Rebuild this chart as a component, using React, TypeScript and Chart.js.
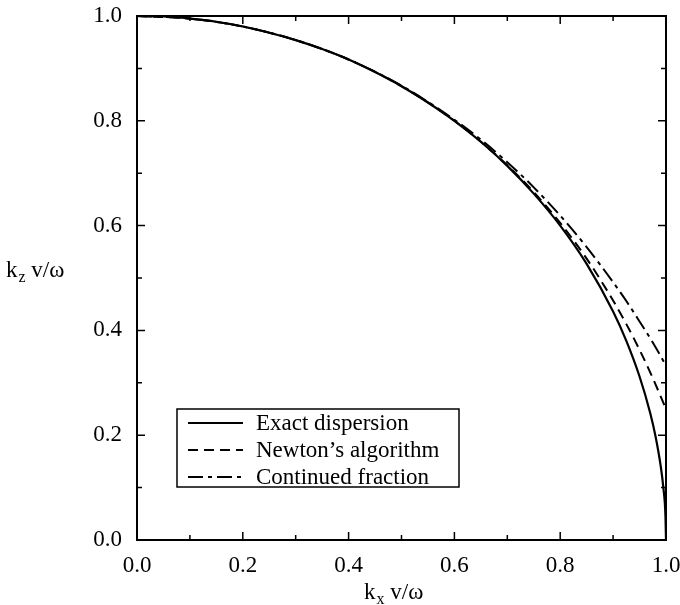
import React, { useEffect, useRef } from "react";
import { Chart, registerables } from "chart.js";

Chart.register(...registerables);

// ---- data ----
const exactKx = [0, 0.05, 0.1, 0.15, 0.2, 0.25, 0.3, 0.35, 0.4, 0.45, 0.5, 0.55, 0.6, 0.65, 0.7, 0.75, 0.8, 0.85, 0.9, 0.925, 0.95, 0.97, 0.98, 0.99, 0.995, 0.999, 1];
const exactKz = [1, 0.999, 0.995, 0.989, 0.98, 0.968, 0.954, 0.937, 0.917, 0.893, 0.866, 0.835, 0.8, 0.76, 0.714, 0.661, 0.6, 0.527, 0.436, 0.38, 0.312, 0.243, 0.199, 0.141, 0.1, 0.045, 0];

const approxKx = [0, 0.1, 0.2, 0.3, 0.4, 0.5, 0.6, 0.65, 0.7, 0.75, 0.8, 0.85, 0.9, 0.925, 0.95, 0.975, 1];
const newtonKz = [1, 0.995, 0.98, 0.954, 0.917, 0.866, 0.8, 0.76, 0.715, 0.664, 0.605, 0.537, 0.457, 0.412, 0.363, 0.309, 0.25];
const fractionKz = [1, 0.995, 0.98, 0.954, 0.917, 0.867, 0.802, 0.764, 0.721, 0.673, 0.619, 0.559, 0.492, 0.456, 0.417, 0.377, 0.333];

const seriesLabels = ["Exact dispersion", "Newton\u2019s algorithm", "Continued fraction"];
const axisTicks = [0, 0.2, 0.4, 0.6, 0.8, 1.0];
const minorTicks = [0, 0.1, 0.2, 0.3, 0.4, 0.5, 0.6, 0.7, 0.8, 0.9, 1.0];

const FONT = "'Liberation Serif', 'DejaVu Serif', serif";

const toPoints = (xs: number[], ys: number[]) => xs.map((x, i) => ({ x, y: ys[i] }));

const framePlugin = {
  id: "frame",
  afterDraw(chart: any) {
    const { ctx, chartArea: a, scales } = chart;
    const xs = scales.x;
    const ys = scales.y;
    ctx.save();
    ctx.strokeStyle = "#000";
    ctx.fillStyle = "#000";
    // border
    ctx.lineWidth = 2;
    ctx.strokeRect(a.left, a.top, a.right - a.left, a.bottom - a.top);
    // inward ticks
    ctx.lineWidth = 1.5;
    minorTicks.forEach((v, i) => {
      const len = i % 2 === 0 ? 8 : 5;
      const px = xs.getPixelForValue(v);
      const py = ys.getPixelForValue(v);
      ctx.beginPath();
      ctx.moveTo(px, a.bottom);
      ctx.lineTo(px, a.bottom - len);
      ctx.moveTo(px, a.top);
      ctx.lineTo(px, a.top + len);
      ctx.moveTo(a.left, py);
      ctx.lineTo(a.left + len, py);
      ctx.moveTo(a.right, py);
      ctx.lineTo(a.right - len, py);
      ctx.stroke();
    });
    // axis titles with subscripts
    const drawTitle = (x: number, y: number, sub: string) => {
      ctx.textBaseline = "alphabetic";
      ctx.textAlign = "left";
      ctx.font = `23px ${FONT}`;
      ctx.fillText("k", x, y);
      let cx = x + ctx.measureText("k").width + 1;
      ctx.font = `16px ${FONT}`;
      ctx.fillText(sub, cx, y + 5);
      cx += ctx.measureText(sub).width;
      ctx.font = `23px ${FONT}`;
      ctx.fillText(" v/\u03c9", cx, y);
    };
    drawTitle(364, 599, "x");
    drawTitle(6, 277, "z");
    // legend
    const bx = 177, by = 409, bw = 282, bh = 78;
    ctx.fillStyle = "#fff";
    ctx.fillRect(bx, by, bw, bh);
    ctx.lineWidth = 1.5;
    ctx.strokeStyle = "#000";
    ctx.strokeRect(bx, by, bw, bh);
    ctx.fillStyle = "#000";
    chart.data.datasets.forEach((ds: any, i: number) => {
      const ry = by + 14 + i * 27;
      ctx.save();
      ctx.lineWidth = 1.8;
      ctx.setLineDash(ds.borderDash || []);
      ctx.beginPath();
      ctx.moveTo(188, ry);
      ctx.lineTo(243, ry);
      ctx.stroke();
      ctx.restore();
      ctx.font = `23px ${FONT}`;
      ctx.textBaseline = "middle";
      ctx.textAlign = "left";
      ctx.fillText(ds.label, 256, ry + 1);
    });
    ctx.restore();
  },
};

const zeroPadding = (s: any) => {
  s.paddingTop = 0;
  s.paddingBottom = 0;
  s.paddingLeft = 0;
  s.paddingRight = 0;
};

export default function App() {
  const canvasRef = useRef<HTMLCanvasElement | null>(null);

  useEffect(() => {
    const canvas = canvasRef.current;
    if (!canvas) return;
    const chart = new Chart(canvas, {
      type: "line",
      data: {
        datasets: [
          {
            label: seriesLabels[0],
            data: toPoints(exactKx, exactKz),
            borderColor: "#000",
            borderWidth: 2.2,
            pointRadius: 0,
            cubicInterpolationMode: "monotone",
            fill: false,
          },
          {
            label: seriesLabels[1],
            data: toPoints(approxKx, newtonKz),
            borderColor: "#000",
            borderWidth: 2,
            borderDash: [10, 6],
            pointRadius: 0,
            cubicInterpolationMode: "monotone",
            fill: false,
          },
          {
            label: seriesLabels[2],
            data: toPoints(approxKx, fractionKz),
            borderColor: "#000",
            borderWidth: 2,
            borderDash: [15, 5, 4, 5],
            pointRadius: 0,
            cubicInterpolationMode: "monotone",
            fill: false,
          },
        ],
      },
      options: {
        animation: false,
        responsive: true,
        maintainAspectRatio: false,
        layout: { padding: { left: 0, top: 16, right: 14, bottom: 0 } },
        plugins: { legend: { display: false }, tooltip: { enabled: false } },
        scales: {
          x: {
            type: "linear",
            min: 0,
            max: 1,
            afterBuildTicks: (s: any) => {
              s.ticks = axisTicks.map((v) => ({ value: v }));
            },
            afterFit: (s: any) => {
              s.height = 65;
              zeroPadding(s);
            },
            grid: { display: false, drawTicks: false },
            border: { display: false },
            ticks: {
              color: "#000",
              padding: 12,
              maxRotation: 0,
              font: { family: FONT, size: 23 },
              callback: (v: any) => Number(v).toFixed(1),
            },
          },
          y: {
            type: "linear",
            min: 0,
            max: 1,
            afterBuildTicks: (s: any) => {
              s.ticks = axisTicks.map((v) => ({ value: v }));
            },
            afterFit: (s: any) => {
              s.width = 137;
              zeroPadding(s);
            },
            grid: { display: false, drawTicks: false },
            border: { display: false },
            ticks: {
              color: "#000",
              padding: 15,
              font: { family: FONT, size: 23 },
              callback: (v: any) => Number(v).toFixed(1),
            },
          },
        },
      },
      plugins: [framePlugin],
    });
    return () => chart.destroy();
  }, []);

  return (
    <div style={{ position: "fixed", left: 0, top: 0, width: 680, height: 605, background: "#fff" }}>
      <canvas ref={canvasRef} />
    </div>
  );
}
